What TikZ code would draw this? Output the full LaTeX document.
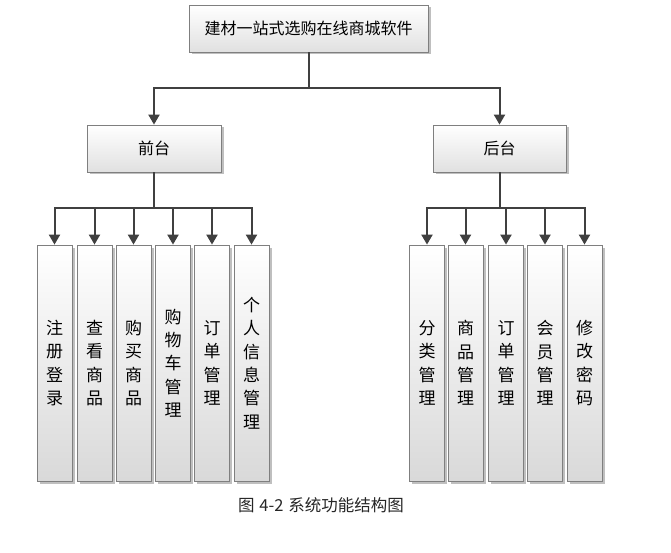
\documentclass[tikz,border=0pt]{standalone}
\usepackage{fontspec}
\newfontfamily\cjk{Noto Sans CJK SC}
\usetikzlibrary{arrows.meta,shadows}
\definecolor{linec}{HTML}{404040}
\definecolor{boxb}{HTML}{7F7F7F}
\tikzset{
  box/.style={draw=boxb, line width=0.8pt, top color=white, bottom color=black!12,
    inner sep=0pt, font=\cjk\fontsize{16}{23.3}\selectfont, align=center,
    drop shadow={shadow xshift=2.5pt, shadow yshift=-2.5pt, fill=black, opacity=0.25}},
  hbox/.style={box, minimum height=47pt},
  vbox/.style={box, minimum width=35pt, minimum height=236pt, bottom color=black!15,
    font=\cjk\fontsize{17}{23.3}\selectfont},
  conn/.style={draw=linec, line width=2pt},
  arr/.style={conn, -{Triangle[length=10pt,width=11pt]}},
}
\begin{document}
\begin{tikzpicture}[x=1pt,y=-1pt]
\useasboundingbox[fill=white] (0,0) rectangle (671,553);
\node[hbox, minimum width=239pt] (top) at (308.5,28.5) {建材一站式选购在线商城软件};
\node[hbox, minimum width=134pt] (qt) at (154,148.5) {前台};
\node[hbox, minimum width=133pt] (ht) at (499.5,148.5) {后台};
\coordinate (j0) at (308.5,88);
\coordinate (j1) at (154,208);
\coordinate (j2) at (499.5,208);
% left children
\node[vbox] (a1) at (54.5,363) {注\\册\\登\\录};
\node[vbox] (a2) at (94.5,363) {查\\看\\商\\品};
\node[vbox] (a3) at (133.5,363) {购\\买\\商\\品};
\node[vbox] (a4) at (173,363) {购\\物\\车\\管\\理};
\node[vbox] (a5) at (212,363) {订\\单\\管\\理};
\node[vbox] (a6) at (251.5,363) {个\\人\\信\\息\\管\\理};
% right children
\node[vbox] (b1) at (427,363) {分\\类\\管\\理};
\node[vbox] (b2) at (465.5,363) {商\\品\\管\\理};
\node[vbox] (b3) at (506,363) {订\\单\\管\\理};
\node[vbox] (b4) at (545,363) {会\\员\\管\\理};
\node[vbox] (b5) at (584.5,363) {修\\改\\密\\码};
% connectors
\draw[conn] (top.south) -- (j0);
\draw[arr] (j0) -| (qt.north);
\draw[arr] (j0) -| (ht.north);
\draw[conn] (qt.south) -- (j1);
\draw[conn] (ht.south) -- (j2);
\foreach \n in {a1,a2,a3,a4,a5,a6} \draw[arr] (j1) -| (\n.north);
\foreach \n in {b1,b2,b3,b4,b5} \draw[arr] (j2) -| (\n.north);
\node[font=\cjk\fontsize{16.5}{18}\selectfont, text=black!85] (cap) at (321,505) {图\hspace{0.3em}4-2\hspace{0.3em}系统功能结构图};
\end{tikzpicture}
\end{document}
